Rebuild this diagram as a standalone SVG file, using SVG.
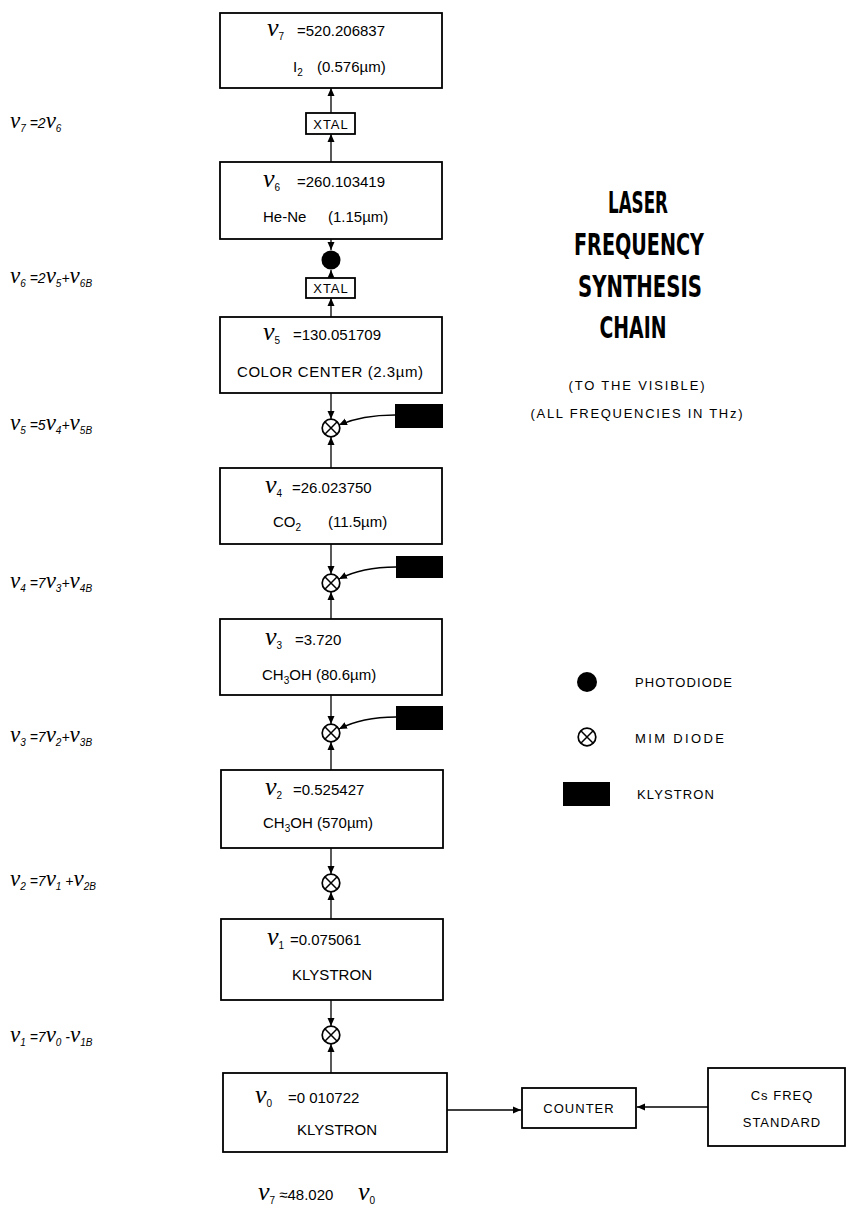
<svg xmlns="http://www.w3.org/2000/svg" width="846" height="1215" viewBox="0 0 846 1215">
<style>
.box{fill:#fff;stroke:#000;stroke-width:1.8}
.t{font-family:"Liberation Sans",Arial,sans-serif;font-size:15px;fill:#000}
.s{font-family:"Liberation Sans",Arial,sans-serif;font-size:13px;letter-spacing:1px;fill:#000}
.nu{font-family:"Liberation Serif",serif;font-style:italic;font-size:26px}
.nue{font-family:"Liberation Serif",serif;font-style:italic;font-size:23px}
.sub{font-size:10px}
.eq{font-family:"Liberation Sans",Arial,sans-serif;font-style:italic;font-size:14px;fill:#000}
.title{font-family:"Liberation Sans Narrow","DejaVu Sans Condensed","Liberation Sans",sans-serif;font-weight:bold;font-size:30px;fill:#000}
.ln{stroke:#000;stroke-width:1.3;fill:none}
.mix{fill:#fff;stroke:#000;stroke-width:1.7}
.kly{fill:#000}
</style>
<defs>
<marker id="ah" viewBox="0 0 8 8" refX="8" refY="4" markerWidth="8" markerHeight="8" markerUnits="userSpaceOnUse" orient="auto">
<path d="M0,0.5 L8,4 L0,7.5 z" fill="#000"/>
</marker>
<g id="mim"><circle r="8.8" class="mix"/><path d="M-6.2,-6.2 L6.2,6.2 M-6.2,6.2 L6.2,-6.2" stroke="#000" stroke-width="1.5"/></g>
</defs>
<rect width="846" height="1215" fill="#fff"/>

<g id="connectors">
<path class="ln" marker-end="url(#ah)" d="M331,113 L331,88"/>
<path class="ln" marker-end="url(#ah)" d="M331,162 L331,134"/>
<path class="ln" marker-end="url(#ah)" d="M331,239 L331,250"/>
<path class="ln" marker-end="url(#ah)" d="M331,279 L331,270"/>
<path class="ln" marker-end="url(#ah)" d="M331,317 L331,298"/>
<path class="ln" marker-end="url(#ah)" d="M331,393 L331,419"/>
<path class="ln" marker-end="url(#ah)" d="M331,468 L331,437"/>
<path class="ln" marker-end="url(#ah)" d="M331,544 L331,574"/>
<path class="ln" marker-end="url(#ah)" d="M331,619 L331,592"/>
<path class="ln" marker-end="url(#ah)" d="M331,695 L331,724"/>
<path class="ln" marker-end="url(#ah)" d="M331,770 L331,742"/>
<path class="ln" marker-end="url(#ah)" d="M331,848 L331,874"/>
<path class="ln" marker-end="url(#ah)" d="M331,919 L331,892"/>
<path class="ln" marker-end="url(#ah)" d="M331,1000 L331,1026"/>
<path class="ln" marker-end="url(#ah)" d="M331,1073 L331,1044"/>
<path class="ln" marker-end="url(#ah)" d="M395,415 Q362,415 339,425"/>
<path class="ln" marker-end="url(#ah)" d="M396,567 Q362,567 339,579"/>
<path class="ln" marker-end="url(#ah)" d="M396,717 Q362,717 339,729"/>
<path class="ln" marker-end="url(#ah)" d="M447,1110 L521,1110"/>
<path class="ln" marker-end="url(#ah)" d="M708,1107 L637,1107"/>
</g>

<g id="nu7">
<rect class="box" x="220" y="13" width="222" height="75"/>
<text class="t" x="267" y="36"><tspan class="nu">ν</tspan><tspan class="sub" dy="4">7</tspan><tspan x="297" dy="-4">=520.206837</tspan></text>
<text class="t" x="293" y="72">I<tspan class="sub" dy="4">2</tspan><tspan x="317" dy="-4">(0.576µm)</tspan></text>
</g>
<g id="xtal1">
<rect class="box" x="306" y="113" width="49" height="21"/>
<text class="s" x="331" y="128.5" text-anchor="middle">XTAL</text>
</g>
<g id="nu6">
<rect class="box" x="220" y="162" width="222" height="77"/>
<text class="t" x="263" y="187"><tspan class="nu">ν</tspan><tspan class="sub" dy="4">6</tspan><tspan x="297" dy="-4">=260.103419</tspan></text>
<text class="t" x="263" y="222">He-Ne<tspan x="328">(1.15µm)</tspan></text>
</g>
<g id="photodiode"><circle cx="331" cy="260" r="9.5" fill="#000"/></g>
<g id="xtal2">
<rect class="box" x="306" y="278" width="49" height="20"/>
<text class="s" x="331" y="293" text-anchor="middle">XTAL</text>
</g>
<g id="nu5">
<rect class="box" x="220" y="317" width="222" height="76"/>
<text class="t" x="263" y="340"><tspan class="nu">ν</tspan><tspan class="sub" dy="4">5</tspan><tspan x="293" dy="-4">=130.051709</tspan></text>
<text class="t" x="237" y="377" textLength="186">COLOR CENTER (2.3µm)</text>
</g>
<g id="mixer1"><use href="#mim" x="331" y="428"/></g>
<g id="klystron1"><rect class="kly" x="395" y="404" width="48" height="24"/></g>
<g id="nu4">
<rect class="box" x="220" y="468" width="222" height="76"/>
<text class="t" x="265" y="493"><tspan class="nu">ν</tspan><tspan class="sub" dy="4">4</tspan><tspan x="292" dy="-4">=26.023750</tspan></text>
<text class="t" x="273" y="527">CO<tspan class="sub" dy="4">2</tspan><tspan x="328" dy="-4">(11.5µm)</tspan></text>
</g>
<g id="mixer2"><use href="#mim" x="331" y="583"/></g>
<g id="klystron2"><rect class="kly" x="396" y="556" width="47" height="22"/></g>
<g id="nu3">
<rect class="box" x="220" y="619" width="222" height="76"/>
<text class="t" x="265" y="645"><tspan class="nu">ν</tspan><tspan class="sub" dy="4">3</tspan><tspan x="295" dy="-4">=3.720</tspan></text>
<text class="t" x="262" y="680">CH<tspan class="sub" dy="4">3</tspan><tspan dy="-4">OH (80.6µm)</tspan></text>
</g>
<g id="mixer3"><use href="#mim" x="331" y="733"/></g>
<g id="klystron3"><rect class="kly" x="396" y="706" width="47" height="24"/></g>
<g id="nu2">
<rect class="box" x="221" y="770" width="222" height="78"/>
<text class="t" x="265" y="795"><tspan class="nu">ν</tspan><tspan class="sub" dy="4">2</tspan><tspan x="293" dy="-4">=0.525427</tspan></text>
<text class="t" x="263" y="828">CH<tspan class="sub" dy="4">3</tspan><tspan dy="-4">OH (570µm)</tspan></text>
</g>
<g id="mixer4"><use href="#mim" x="331" y="883"/></g>
<g id="nu1">
<rect class="box" x="221" y="919" width="222" height="81"/>
<text class="t" x="267" y="945"><tspan class="nu">ν</tspan><tspan class="sub" dy="4">1</tspan><tspan x="290" dy="-4">=0.075061</tspan></text>
<text class="t" x="292" y="980" textLength="80">KLYSTRON</text>
</g>
<g id="mixer5"><use href="#mim" x="331" y="1035"/></g>
<g id="nu0">
<rect class="box" x="223" y="1073" width="224" height="79"/>
<text class="t" x="255" y="1103"><tspan class="nu">ν</tspan><tspan class="sub" dy="4">0</tspan><tspan x="288" dy="-4">=0 010722</tspan></text>
<text class="t" x="297" y="1135" textLength="80">KLYSTRON</text>
</g>
<g id="counter">
<rect class="box" x="522" y="1088" width="114" height="40"/>
<text class="s" x="579" y="1113" text-anchor="middle">COUNTER</text>
</g>
<g id="cs">
<rect class="box" x="708" y="1068" width="137" height="78"/>
<text class="s" x="782" y="1100" text-anchor="middle">Cs FREQ</text>
<text class="s" x="782" y="1127" text-anchor="middle">STANDARD</text>
</g>

<g id="equations">
<text class="eq" x="10" y="128"><tspan class="nue">ν</tspan><tspan class="sub" dy="4">7</tspan><tspan dy="-4"> =2</tspan><tspan class="nue">ν</tspan><tspan class="sub" dy="4">6</tspan></text>
<text class="eq" x="10" y="283"><tspan class="nue">ν</tspan><tspan class="sub" dy="4">6</tspan><tspan dy="-4"> =2</tspan><tspan class="nue">ν</tspan><tspan class="sub" dy="4">5</tspan><tspan dy="-4">+</tspan><tspan class="nue">ν</tspan><tspan class="sub" dy="4">6B</tspan></text>
<text class="eq" x="10" y="430"><tspan class="nue">ν</tspan><tspan class="sub" dy="4">5</tspan><tspan dy="-4"> =5</tspan><tspan class="nue">ν</tspan><tspan class="sub" dy="4">4</tspan><tspan dy="-4">+</tspan><tspan class="nue">ν</tspan><tspan class="sub" dy="4">5B</tspan></text>
<text class="eq" x="10" y="588"><tspan class="nue">ν</tspan><tspan class="sub" dy="4">4</tspan><tspan dy="-4"> =7</tspan><tspan class="nue">ν</tspan><tspan class="sub" dy="4">3</tspan><tspan dy="-4">+</tspan><tspan class="nue">ν</tspan><tspan class="sub" dy="4">4B</tspan></text>
<text class="eq" x="10" y="742"><tspan class="nue">ν</tspan><tspan class="sub" dy="4">3</tspan><tspan dy="-4"> =7</tspan><tspan class="nue">ν</tspan><tspan class="sub" dy="4">2</tspan><tspan dy="-4">+</tspan><tspan class="nue">ν</tspan><tspan class="sub" dy="4">3B</tspan></text>
<text class="eq" x="10" y="886"><tspan class="nue">ν</tspan><tspan class="sub" dy="4">2</tspan><tspan dy="-4"> =7</tspan><tspan class="nue">ν</tspan><tspan class="sub" dy="4">1</tspan><tspan dy="-4"> +</tspan><tspan class="nue">ν</tspan><tspan class="sub" dy="4">2B</tspan></text>
<text class="eq" x="10" y="1042"><tspan class="nue">ν</tspan><tspan class="sub" dy="4">1</tspan><tspan dy="-4"> =7</tspan><tspan class="nue">ν</tspan><tspan class="sub" dy="4">0</tspan><tspan dy="-4"> -</tspan><tspan class="nue">ν</tspan><tspan class="sub" dy="4">1B</tspan></text>
</g>

<g id="result">
<text class="t" x="258" y="1200"><tspan class="nu">ν</tspan><tspan class="sub" dy="4">7</tspan><tspan dy="-4"> ≈48.020</tspan><tspan class="nu" x="358">ν</tspan><tspan class="sub" dy="4">0</tspan></text>
</g>

<g id="title">
<text class="title" x="638" y="213" text-anchor="middle" textLength="60" lengthAdjust="spacingAndGlyphs">LASER</text>
<text class="title" x="639" y="255" text-anchor="middle" textLength="130" lengthAdjust="spacingAndGlyphs">FREQUENCY</text>
<text class="title" x="640" y="297" text-anchor="middle" textLength="124" lengthAdjust="spacingAndGlyphs">SYNTHESIS</text>
<text class="title" x="633" y="338" text-anchor="middle" textLength="67" lengthAdjust="spacingAndGlyphs">CHAIN</text>
<text class="s" x="637" y="390" text-anchor="middle" textLength="137">(TO THE VISIBLE)</text>
<text class="s" x="637" y="418" text-anchor="middle" textLength="213">(ALL FREQUENCIES IN THz)</text>
</g>

<g id="legend">
<circle cx="587" cy="682" r="10" fill="#000"/>
<text class="s" x="635" y="687" textLength="98">PHOTODIODE</text>
<use href="#mim" x="587" y="737"/>
<text class="s" x="635" y="743" textLength="90">MIM DIODE</text>
<rect class="kly" x="563" y="782" width="47" height="24"/>
<text class="s" x="637" y="799" textLength="78">KLYSTRON</text>
</g>
</svg>
